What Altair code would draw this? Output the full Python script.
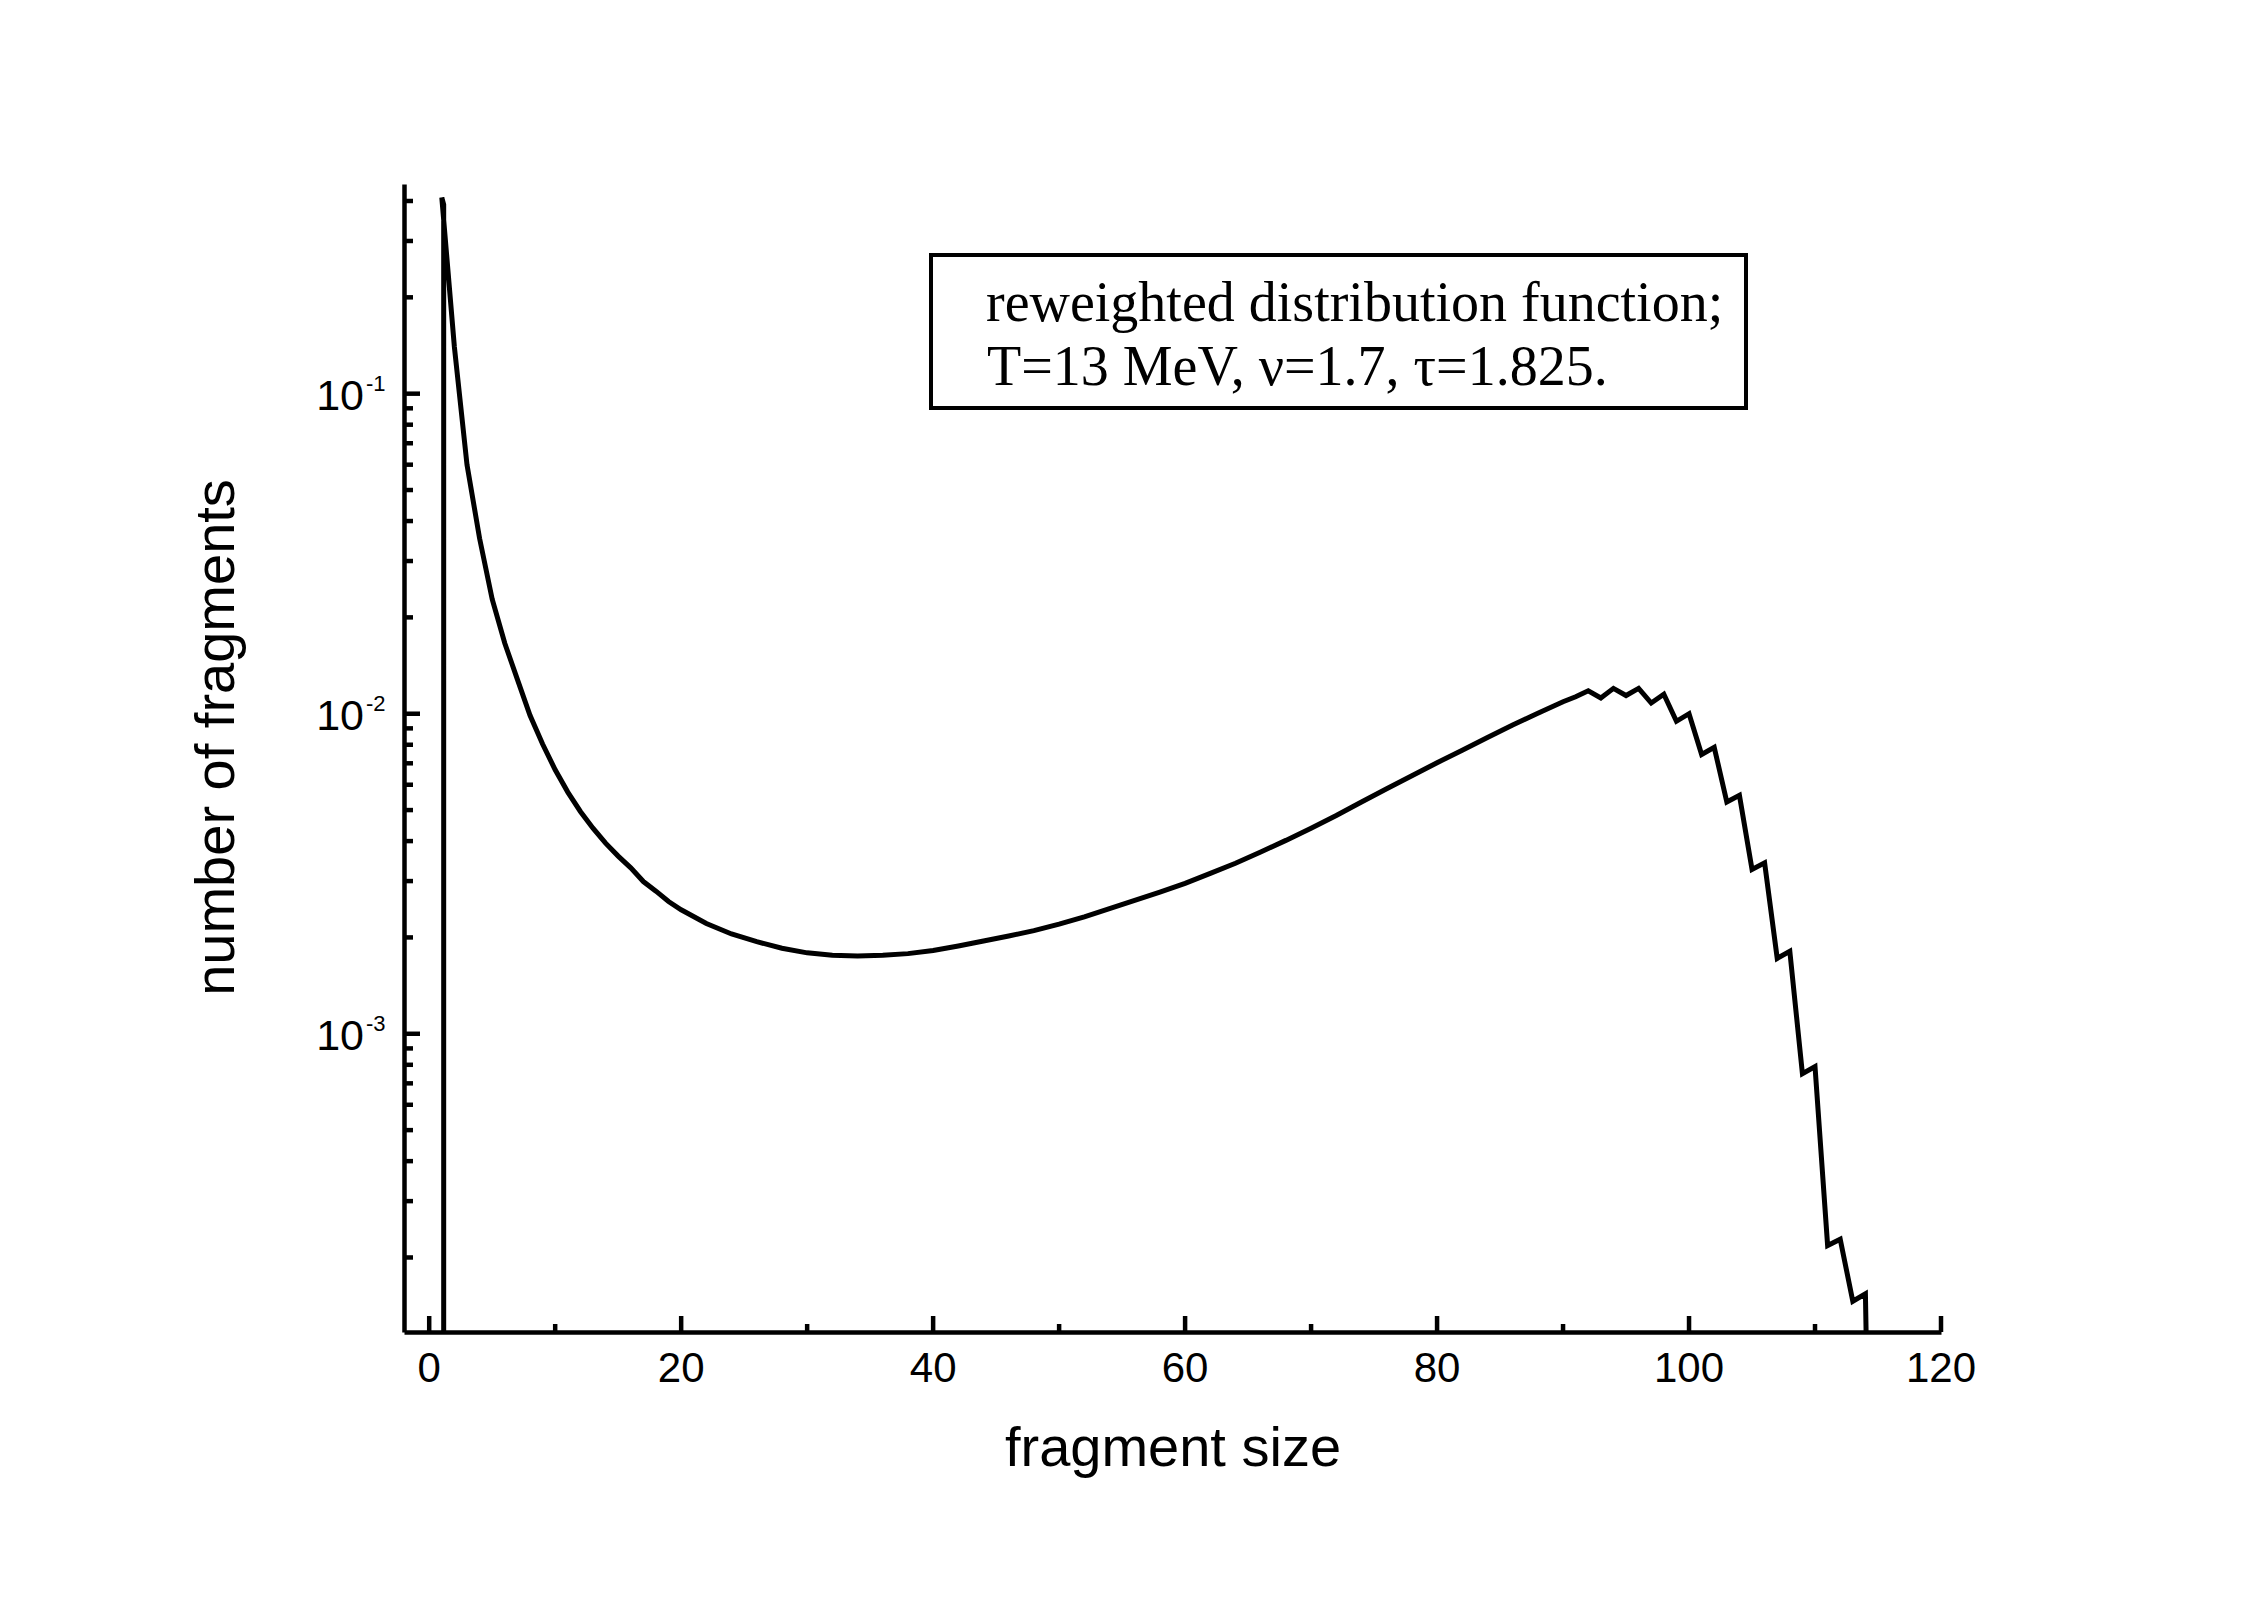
import altair as alt
import pandas as pd

# ---- data ----
fragment_size = [1.15, 1.15, 1, 2, 3, 4, 5, 6, 7, 8, 9, 10, 11, 12, 13, 14, 15, 16, 17, 18, 19, 20,
                 22, 24, 26, 28, 30, 32, 34, 36, 38, 40, 42, 44, 46, 48, 50, 52, 54, 56, 58, 60,
                 62, 64, 66, 68, 70, 72, 74, 76, 78, 80, 82, 84, 86, 88, 90, 91, 92, 93, 94, 95,
                 96, 97, 98, 99, 100, 101, 102, 103, 104, 105, 106, 107, 108, 109, 110, 111, 112,
                 113, 114, 115]
fragment_number = [1e-6, 0.39, 0.41, 0.14, 0.060, 0.0353, 0.0228, 0.0166, 0.0128, 0.00989, 0.00804,
                   0.00668, 0.00569, 0.00495, 0.00439, 0.00394, 0.00359, 0.00330, 0.00299, 0.00279,
                   0.00259, 0.00244, 0.00221, 0.00205, 0.00194, 0.00185, 0.00179, 0.00176, 0.00175,
                   0.00176, 0.00178, 0.00182, 0.00188, 0.00195, 0.00202, 0.00210, 0.00220, 0.00232,
                   0.00246, 0.00261, 0.00277, 0.00295, 0.00317, 0.00341, 0.00370, 0.00402, 0.00439,
                   0.00481, 0.00530, 0.00583, 0.00640, 0.00703, 0.00769, 0.00843, 0.00922, 0.01003,
                   0.01090, 0.0113, 0.0118, 0.0112, 0.0120, 0.0114, 0.0120, 0.0108, 0.0115, 0.00947,
                   0.0100, 0.00746, 0.00785, 0.00530, 0.00556, 0.00326, 0.00342, 0.00172, 0.00181,
                   0.00075, 0.00079, 0.000218, 0.000228, 0.000146, 0.000154, 1e-6]
point_order = list(range(len(fragment_size)))

x_major_ticks = [0, 20, 40, 60, 80, 100, 120]
x_tick_labels = ["0", "20", "40", "60", "80", "100", "120"]
x_minor_ticks = [10, 30, 50, 70, 90, 110]
y_major_ticks = [1e-3, 1e-2, 1e-1]
y_label_base = ["10", "10", "10"]
y_label_exp = ["-3", "-2", "-1"]
y_minor_ticks = [2e-4, 3e-4, 4e-4, 5e-4, 6e-4, 7e-4, 8e-4, 9e-4,
                 2e-3, 3e-3, 4e-3, 5e-3, 6e-3, 7e-3, 8e-3, 9e-3,
                 2e-2, 3e-2, 4e-2, 5e-2, 6e-2, 7e-2, 8e-2, 9e-2,
                 0.2, 0.3, 0.4]
legend_lines = ["reweighted distribution function;", "T=13 MeV, \u03bd=1.7, \u03c4=1.825."]
x_title = "fragment size"
y_title = "number of fragments"
x_domain = [-2, 120]
y_domain = [1.17e-4, 0.452]

# ---- layout / style ----
W, H = 1537, 1148
SANS = "Liberation Sans"
SERIF = "Liberation Serif"

xs = alt.Scale(type="linear", domain=x_domain, nice=False, zero=False)
ys = alt.Scale(type="log", domain=y_domain, nice=False)

x_axis = alt.Axis(title=x_title, labels=False, ticks=False, tickSize=0, grid=False,
                  domainColor="black", domainWidth=4.5,
                  titleFont=SANS, titleFontSize=56, titleFontWeight="normal",
                  titleColor="black", titleBaseline="alphabetic", titleY=133)
y_axis = alt.Axis(title=y_title, labels=False, ticks=False, tickSize=0, grid=False,
                  domainColor="black", domainWidth=4.5,
                  titleFont=SANS, titleFontSize=56, titleFontWeight="normal",
                  titleColor="black", titleAngle=270, titleBaseline="alphabetic",
                  titleAlign="center", titleX=-171, titleY=553)

curve_df = pd.DataFrame({"size": fragment_size, "number": fragment_number, "i": point_order})

curve = alt.Chart(curve_df).mark_line(color="black", strokeWidth=5, clip=True).encode(
    x=alt.X("size:Q", scale=xs, axis=x_axis),
    y=alt.Y("number:Q", scale=ys, axis=y_axis),
    order=alt.Order("i:Q"),
)

xmaj_df = pd.DataFrame({"t": x_major_ticks, "label": x_tick_labels})
xmin_df = pd.DataFrame({"t": x_minor_ticks})
ymaj_df = pd.DataFrame({"t": y_major_ticks, "base": y_label_base, "exp": y_label_exp})
ymin_df = pd.DataFrame({"t": y_minor_ticks})

x_major = alt.Chart(xmaj_df).mark_rule(color="black", strokeWidth=4.5).encode(
    x=alt.X("t:Q", scale=xs, axis=x_axis, title=x_title), y=alt.value(H), y2=alt.value(H - 16))
x_minor = alt.Chart(xmin_df).mark_rule(color="black", strokeWidth=4.5).encode(
    x=alt.X("t:Q", scale=xs, axis=x_axis, title=x_title), y=alt.value(H), y2=alt.value(H - 8))
x_labels = alt.Chart(xmaj_df).mark_text(font=SANS, fontSize=42, align="center",
                                        baseline="alphabetic", color="black").encode(
    x=alt.X("t:Q", scale=xs, axis=x_axis, title=x_title), y=alt.value(H + 50), text="label:N")

y_major = alt.Chart(ymaj_df).mark_rule(color="black", strokeWidth=4.5).encode(
    y=alt.Y("t:Q", scale=ys, axis=y_axis, title=y_title), x=alt.value(0), x2=alt.value(16))
y_minor = alt.Chart(ymin_df).mark_rule(color="black", strokeWidth=4.5).encode(
    y=alt.Y("t:Q", scale=ys, axis=y_axis, title=y_title), x=alt.value(0), x2=alt.value(9))
y_base = alt.Chart(ymaj_df).mark_text(font=SANS, fontSize=43, align="right",
                                      baseline="alphabetic", dy=16, color="black").encode(
    y=alt.Y("t:Q", scale=ys, axis=y_axis, title=y_title), x=alt.value(-40), text="base:N")
y_exp = alt.Chart(ymaj_df).mark_text(font=SANS, fontSize=22, align="left",
                                     baseline="alphabetic", dy=-3, color="black").encode(
    y=alt.Y("t:Q", scale=ys, axis=y_axis, title=y_title), x=alt.value(-38), text="exp:N")

legend_df = pd.DataFrame({"line": legend_lines})
legend_box = alt.Chart(legend_df.head(1)).mark_rect(fill="white", stroke="black", strokeWidth=4).encode(
    x=alt.value(527), x2=alt.value(1342), y=alt.value(71), y2=alt.value(224))
legend_t1 = alt.Chart(legend_df.head(1)).mark_text(font=SERIF, fontSize=56, align="left",
                                                   baseline="alphabetic", color="black").encode(
    x=alt.value(582), y=alt.value(137), text="line:N")
legend_t2 = alt.Chart(legend_df.tail(1)).mark_text(font=SERIF, fontSize=56, align="left",
                                                   baseline="alphabetic", color="black").encode(
    x=alt.value(583), y=alt.value(201), text="line:N")

chart = alt.layer(
    curve, x_major, x_minor, x_labels, y_major, y_minor, y_base, y_exp,
    legend_box, legend_t1, legend_t2,
).properties(
    width=W, height=H,
    padding={"left": 396, "top": 176, "right": 250, "bottom": 200},
    autosize=alt.AutoSizeParams(type="none"),
    background="white",
).configure_view(stroke="transparent")

chart.save("out.html", embed_options={"renderer": "svg", "actions": False})
